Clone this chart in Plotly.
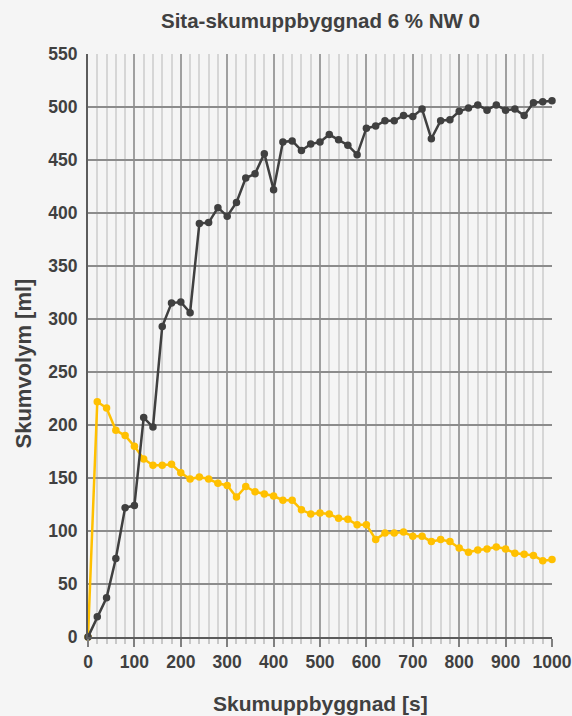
import plotly.graph_objects as go

time_s = list(range(0, 1001, 20))

dark_series = [0, 19, 37, 74, 122, 124, 207, 198, 293, 315,
               316, 306, 390, 391, 405, 397, 410, 433, 437, 456,
               422, 467, 468, 459, 465, 467, 474, 469, 464, 455,
               480, 482, 487, 487, 492, 491, 498, 470, 487, 488,
               496, 499, 502, 497, 502, 497, 498, 492, 504, 505, 506]

yellow_series = [0, 222, 216, 195, 190, 180, 168, 162, 162, 163,
                 155, 149, 151, 149, 145, 143, 132, 142, 137, 135,
                 133, 129, 129, 120, 116, 117, 116, 112, 111, 106,
                 106, 92, 98, 98, 99, 95, 95, 90, 92, 90,
                 84, 80, 82, 83, 85, 83, 79, 78, 77, 72, 73]

x_ticks = list(range(0, 1001, 100))
y_ticks = list(range(0, 551, 50))

title_text = "Sita-skumuppbyggnad 6 % NW 0"
x_title = "Skumuppbyggnad [s]"
y_title = "Skumvolym [ml]"

font_family = "Liberation Sans, Arial, sans-serif"
text_color = "#404040"

fig = go.Figure()
fig.add_trace(go.Scatter(
    x=time_s, y=yellow_series, mode="lines+markers",
    line=dict(color="#FFC000", width=2.5),
    marker=dict(color="#FFC000", size=7.5),
    cliponaxis=False, showlegend=False))
fig.add_trace(go.Scatter(
    x=time_s, y=dark_series, mode="lines+markers",
    line=dict(color="#404040", width=2.5),
    marker=dict(color="#404040", size=7.5),
    cliponaxis=False, showlegend=False))

fig.update_layout(
    width=572, height=716,
    margin=dict(l=88, r=20, t=54, b=79),
    paper_bgcolor="#f5f5f5", plot_bgcolor="#f5f5f5",
    font=dict(family=font_family, color=text_color, size=17),
    annotations=[
        dict(text="<b>" + title_text + "</b>", xref="paper", yref="paper",
             x=0.5, y=1, yshift=34, xanchor="center", yanchor="middle",
             showarrow=False, font=dict(size=20.5, color=text_color)),
        dict(text="<b>" + x_title + "</b>", xref="paper", yref="paper",
             x=0.5, y=0, yshift=-66, xanchor="center", yanchor="middle",
             showarrow=False, font=dict(size=21, color=text_color)),
        dict(text="<b>" + y_title + "</b>", xref="paper", yref="paper",
             x=0, xshift=-65, y=0.5, yshift=-18, xanchor="center", yanchor="middle",
             textangle=-90, showarrow=False, font=dict(size=22, color=text_color)),
    ],
)

fig.update_xaxes(
    range=[0, 1000], automargin=False,
    tickvals=x_ticks,
    ticktext=["<b>%d</b>" % v for v in x_ticks],
    showgrid=True, gridcolor="#a0a0a0", gridwidth=1.5,
    minor=dict(dtick=20, tick0=0, showgrid=True, gridcolor="#d6d6d6", gridwidth=2,
               ticks="outside", ticklen=5, tickcolor="#c8c8c8", tickwidth=1.5),
    ticks="outside", ticklen=8, tickcolor="#808080", tickwidth=1.5,
    showline=True, linecolor="#5c5c5c", linewidth=2,
    zeroline=False, fixedrange=True,
    tickfont=dict(size=17.5, color=text_color),
)
fig.update_yaxes(
    range=[0, 550], automargin=False,
    tickvals=y_ticks,
    ticktext=["<b>%d</b>" % v for v in y_ticks],
    showgrid=True, gridcolor="#8c8c8c", gridwidth=2,
    showline=True, linecolor="#5c5c5c", linewidth=2,
    ticks="", ticklen=0, ticklabelstandoff=5,
    zeroline=False, fixedrange=True,
    tickfont=dict(size=17.5, color=text_color),
)

fig.write_html("out.html", config={"displayModeBar": False},
               post_script="document.body.style.margin='0';document.body.style.background='#f5f5f5';")
